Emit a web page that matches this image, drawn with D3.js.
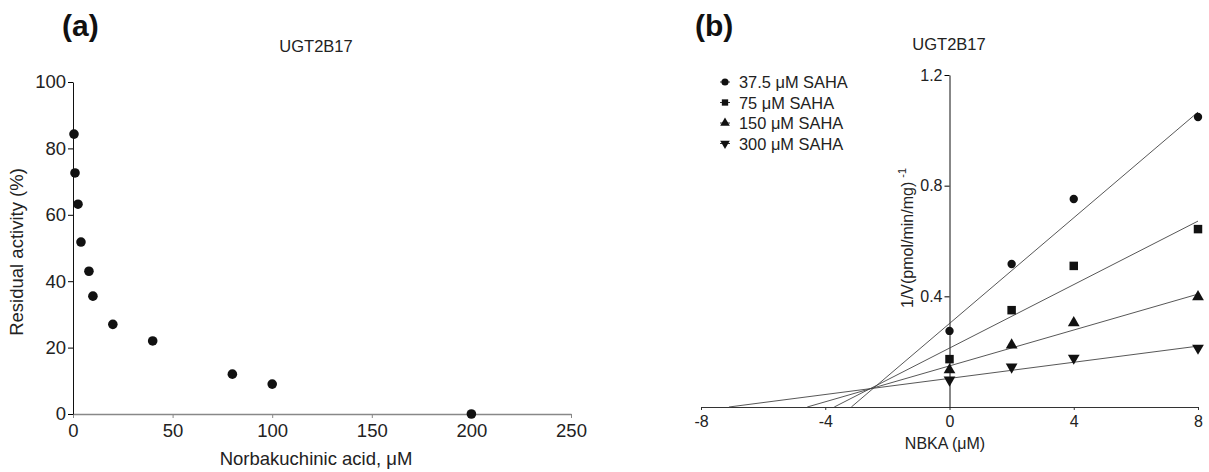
<!DOCTYPE html>
<html>
<head>
<meta charset="utf-8">
<script src="https://cdn.jsdelivr.net/npm/d3@7"></script>
<style>
body { margin: 0; background: #fff; }
svg { font-family: "Liberation Sans", Arial, sans-serif; }
</style>
</head>
<body>
<div id="chart"></div>
<script>
// panel (a): residual activity vs norbakuchinic acid
const concA = [0.5, 1, 2.5, 4, 8, 10, 20, 40, 80, 100, 200];
const activityA = [84.3, 72.6, 63.2, 51.8, 43, 35.5, 27, 22, 12, 9, 0];
const xTicksA = [0, 50, 100, 150, 200, 250];
const yTicksA = [0, 20, 40, 60, 80, 100];

// panel (b): Dixon plot
const nbka = [0, 2, 4, 8];
const sahaLabels = ["37.5 \u03bcM SAHA", "75 \u03bcM SAHA", "150 \u03bcM SAHA", "300 \u03bcM SAHA"];
const sahaSymbols = ["circle", "square", "triangle", "triangleDown"];
const inv37 = [0.275, 0.517, 0.752, 1.048];
const inv75 = [0.173, 0.35, 0.51, 0.643];
const inv150 = [0.134, 0.224, 0.304, 0.398];
const inv300 = [0.098, 0.145, 0.177, 0.213];
// fitted lines: x where they meet the axis, value at NBKA = 8
const fitXStart = [-3.16, -3.71, -4.58, -7.1];
const fitAt8 = [1.066, 0.672, 0.408, 0.22];
const xTicksB = [-8, -4, 0, 4, 8];
const yTicksB = [0.4, 0.8, 1.2];

const seriesB = [inv37, inv75, inv150, inv300];

const svg = d3.select("#chart").append("svg")
  .attr("width", 1209).attr("height", 472);

// ---------- panel (a)
const xA = d3.scaleLinear().domain([0, 250]).range([73, 571]);
const yA = d3.scaleLinear().domain([0, 100]).range([414, 82]);

svg.append("text").attr("x", 62).attr("y", 36)
  .attr("font-size", 30).attr("font-weight", "bold").attr("fill", "#111")
  .text("(a)");
svg.append("text").attr("x", 316).attr("y", 52).attr("text-anchor", "middle")
  .attr("font-size", 16.5).attr("fill", "#222").text("UGT2B17");

const axA_x = svg.append("g").attr("transform", `translate(0,${yA(0)})`)
  .call(d3.axisBottom(xA).tickValues(xTicksA).tickFormat(d => String(d)).tickSize(4).tickPadding(6).tickSizeOuter(0));
axA_x.select(".domain").attr("stroke", "#888").attr("stroke-width", 1.6);
axA_x.selectAll(".tick line").attr("stroke", "#888");
axA_x.selectAll("text").attr("font-size", 18.5).attr("fill", "#222").attr("font-family", null);

const axA_y = svg.append("g").attr("transform", `translate(${xA(0)},0)`)
  .call(d3.axisLeft(yA).tickValues(yTicksA).tickFormat(d => String(d)).tickSize(5).tickPadding(2).tickSizeOuter(0));
axA_y.select(".domain").attr("stroke", "#111");
axA_y.selectAll("text").attr("font-size", 18.5).attr("fill", "#222").attr("font-family", null);

svg.append("text").attr("transform", "translate(23,252) rotate(-90)")
  .attr("text-anchor", "middle").attr("font-size", 18.5).attr("fill", "#222")
  .text("Residual activity (%)");
svg.append("text").attr("x", 316).attr("y", 465).attr("text-anchor", "middle")
  .attr("font-size", 18.5).attr("fill", "#222")
  .text("Norbakuchinic acid, \u03bcM");

svg.append("g").selectAll("circle")
  .data(concA.map((c, i) => [c, activityA[i]]))
  .enter().append("circle")
  .attr("cx", d => xA(d[0])).attr("cy", d => yA(d[1]))
  .attr("r", 4.8).attr("fill", "#111");

// ---------- panel (b)
const xB = d3.scaleLinear().domain([-8, 8]).range([701, 1198]);
const yB = d3.scaleLinear().domain([0, 1.2]).range([407, 75]);

svg.append("text").attr("x", 695).attr("y", 36)
  .attr("font-size", 30).attr("font-weight", "bold").attr("fill", "#111")
  .text("(b)");
svg.append("text").attr("x", 949).attr("y", 50).attr("text-anchor", "middle")
  .attr("font-size", 16.5).attr("fill", "#222").text("UGT2B17");

const axB_x = svg.append("g").attr("transform", `translate(0,${yB(0)})`)
  .call(d3.axisBottom(xB).tickValues(xTicksB).tickFormat(d => String(d)).tickSize(3).tickPadding(6).tickSizeOuter(0));
axB_x.select(".domain").attr("stroke", "#333");
axB_x.selectAll(".tick line").attr("stroke", "#333");
axB_x.selectAll("text").attr("font-size", 16).attr("fill", "#222").attr("font-family", null);

const axB_y = svg.append("g").attr("transform", `translate(${xB(0)},0)`)
  .call(d3.axisLeft(yB).tickValues(yTicksB).tickFormat(d => d.toFixed(1)).tickSize(5).tickPadding(2).tickSizeOuter(0));
axB_y.select(".domain").attr("stroke", "#111");
axB_y.selectAll("text").attr("font-size", 16).attr("fill", "#222").attr("font-family", null);

const ylabB = svg.append("text").attr("transform", "translate(913,308) rotate(-90)")
  .attr("font-size", 16).attr("fill", "#222");
ylabB.append("tspan").text("1/V(pmol/min/mg)");
ylabB.append("tspan").attr("dx", 4).attr("dy", -7).attr("font-size", 11).text("-1");

svg.append("text").attr("x", 945).attr("y", 449).attr("text-anchor", "middle")
  .attr("font-size", 16).attr("fill", "#222").text("NBKA (\u03bcM)");

// fit lines
svg.append("g").selectAll("line")
  .data(fitXStart.map((x0, i) => ({ x0: x0, y1: fitAt8[i] })))
  .enter().append("line")
  .attr("x1", d => xB(d.x0)).attr("y1", yB(0))
  .attr("x2", xB(8)).attr("y2", d => yB(d.y1))
  .attr("stroke", "#444").attr("stroke-width", 0.9);

const symbolFor = {
  circle: d3.symbol().type(d3.symbolCircle).size(55),
  square: d3.symbol().type(d3.symbolSquare).size(72),
  triangle: d3.symbol().type(d3.symbolTriangle).size(60),
  triangleDown: d3.symbol().type(d3.symbolTriangle).size(60)
};

seriesB.forEach((vals, s) => {
  const type = sahaSymbols[s];
  svg.append("g").selectAll("path")
    .data(nbka.map((x, i) => [x, vals[i]]))
    .enter().append("path")
    .attr("d", symbolFor[type]())
    .attr("transform", d => `translate(${xB(d[0])},${yB(d[1])})` + (type === "triangleDown" ? " rotate(180)" : ""))
    .attr("fill", "#111");
});

// legend
const legend = svg.append("g").attr("transform", "translate(725,82)");
sahaLabels.forEach((lab, i) => {
  const row = legend.append("g").attr("transform", `translate(0,${i * 20.5})`);
  row.append("line").attr("x1", -5).attr("x2", 5).attr("stroke", "#333");
  const type = sahaSymbols[i];
  row.append("path").attr("d", d3.symbol().type(type === "circle" ? d3.symbolCircle : type === "square" ? d3.symbolSquare : d3.symbolTriangle).size(40)())
    .attr("transform", type === "triangleDown" ? "rotate(180)" : null)
    .attr("fill", "#111");
  row.append("text").attr("x", 14).attr("y", 6).attr("font-size", 16.4).attr("fill", "#222").text(lab);
});
</script>
</body>
</html>
